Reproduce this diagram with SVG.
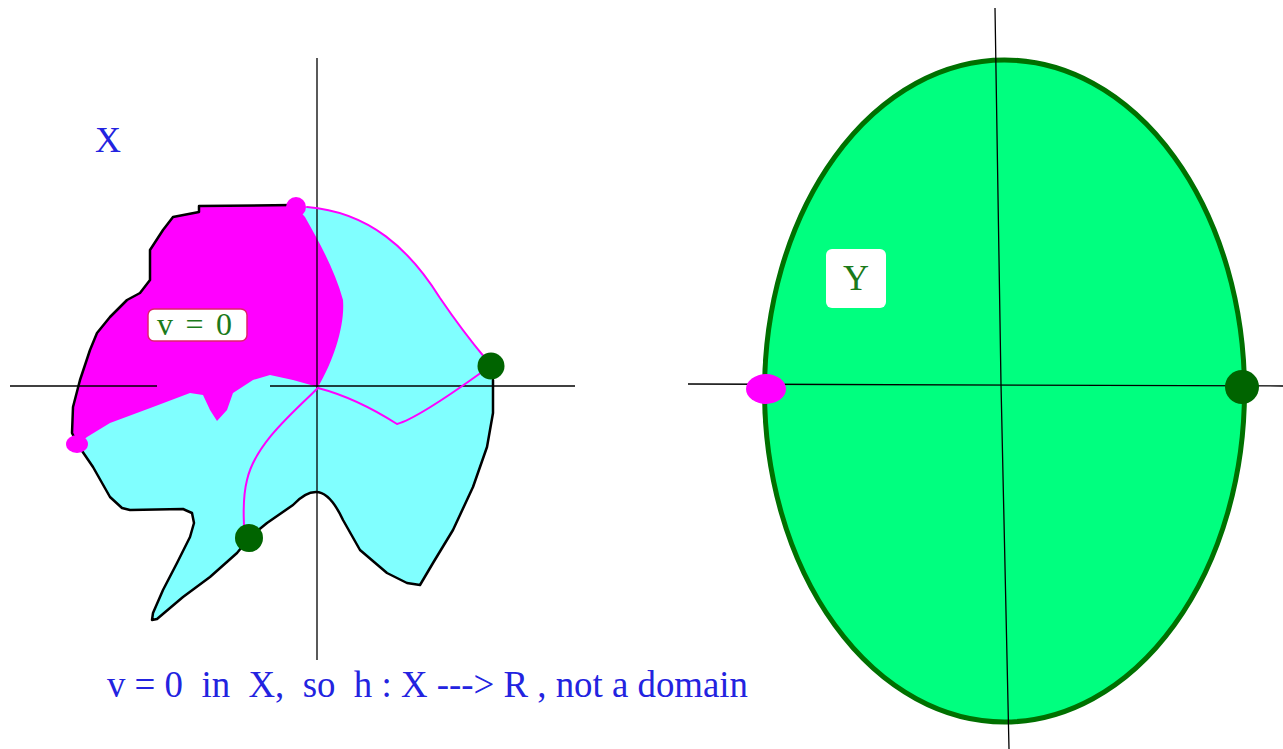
<svg xmlns="http://www.w3.org/2000/svg" width="1283" height="749" viewBox="0 0 1283 749">
<style>
.axis{stroke:#000;stroke-width:1.3;fill:none}
.outline{stroke:#000;stroke-width:2.5;fill:none;stroke-linejoin:round;stroke-linecap:round}
.mline{stroke:#ff00ff;stroke-width:2;fill:none;stroke-linecap:round}
.serif{font-family:"Liberation Serif","Times New Roman",serif;white-space:pre}
.blue{fill:#2323e0}
.green{fill:#1a7a1a}
</style>
<rect width="1283" height="749" fill="#fff"/>
<g id="regionX">
<path fill="#80ffff" d="M296,206 L307,207 C370,212 410,250 440,298 C455,320 472,342 487,360 L493,380 L493,413 L487,447 L473,487 L453,530 L433,563 L420,585 L407,583 L387,573 L360,550 L343,520 Q330,492 316,492 Q305,492 293,505 L267,523 L250,537 L237,553 L210,577 L183,597 L157,619 L152,620 L153,613 L163,590 L177,563 L190,537 L194,523 L192,513 L183,509 L130,510 L122,508 L110,497 L93,467 L78,445 L72,433 L73,407 L80,380 L90,350 L97,333 L110,317 L127,300 L140,293 L150,280 L150,250 L163,230 L173,217 L199,212 L199,207 L293,205 Z"/>
<path fill="#ff00ff" d="M296,207 L305,217 C318,240 335,270 343,300 C345,325 334,360 318,387 L293,380 L270,375 L253,380 L233,393 L227,410 L217,421 L210,410 L203,395 L190,393 L153,407 L110,423 L87,437 L78,445 L72,433 L73,407 L80,380 L90,350 L97,333 L110,317 L127,300 L140,293 L150,280 L150,250 L163,230 L173,217 L199,212 L199,207 L293,205 Z"/>
<path class="outline" d="M293,205 L199,206 L199,212 L173,217 L163,230 L150,250 L150,280 L140,293 L127,300 L110,317 L97,333 L90,350 L80,380 L73,407 L72,433 L78,445 L93,467 L110,497 L122,508 L130,510 L183,509 L192,513 L194,523 L190,537 L177,563 L163,590 L153,613 L152,620 L157,619 L183,597 L210,577 L237,553 L250,537 L267,523 L293,505 Q305,492 316,492 Q330,492 343,520 L360,550 L387,573 L407,583 L420,585 L433,563 L453,530 L473,487 L487,447 L493,413 L493,380"/>
</g>
<g id="axesX">
<line class="axis" x1="317" y1="58" x2="317" y2="660"/>
<line class="axis" x1="10" y1="386" x2="157" y2="386"/>
<line class="axis" x1="270" y1="386" x2="575" y2="386"/>
</g>
<g id="curves">
<path class="mline" d="M307,207 C370,212 410,250 440,298 C455,320 470,340 485,358"/>
<path class="mline" d="M318,388 C345,395 375,410 397,424 C412,420 450,395 482,372"/>
<path class="mline" d="M318,388 C290,415 255,445 247,480 C242,500 244,515 244,528"/>
</g>
<g id="dotsX">
<circle cx="296" cy="207" r="10" fill="#ff00ff"/>
<ellipse cx="77" cy="444" rx="11" ry="9" fill="#ff00ff"/>
<circle cx="491" cy="366" r="13.5" fill="#006400"/>
<circle cx="249" cy="538" r="14" fill="#006400"/>
</g>
<g id="labelX">
<text class="serif blue" x="95" y="152" font-size="36">X</text>
</g>
<g id="labelV0">
<rect x="148" y="309" width="99" height="32" rx="6" fill="#fff" stroke="#e0206f" stroke-width="1.5"/>
<text class="serif green" x="157" y="335" font-size="32" textLength="75" lengthAdjust="spacing" xml:space="preserve">v = 0</text>
</g>
<g id="caption">
<text class="serif blue" x="107" y="697" font-size="37" textLength="641" lengthAdjust="spacingAndGlyphs" xml:space="preserve">v = 0  in  X,  so  h : X ---&gt; R , not a domain</text>
</g>
<g id="regionY">
<ellipse cx="1004.5" cy="391" rx="240" ry="331" fill="#00ff7f" stroke="#007000" stroke-width="5"/>
</g>
<g id="axesY">
<path class="axis" stroke-width="2" d="M995,8 L1001,384 L1009,749"/>
<line class="axis" stroke-width="2" x1="688" y1="384" x2="1283" y2="386"/>
</g>
<g id="dotsY">
<ellipse cx="766" cy="389" rx="20" ry="15" fill="#ff00ff"/>
<ellipse cx="1242" cy="387" rx="17" ry="17" fill="#006400"/>
</g>
<g id="labelY">
<rect x="826" y="249" width="60" height="59" rx="6" fill="#fff"/>
<text class="serif green" x="856" y="290" font-size="36" text-anchor="middle">Y</text>
</g>
</svg>
